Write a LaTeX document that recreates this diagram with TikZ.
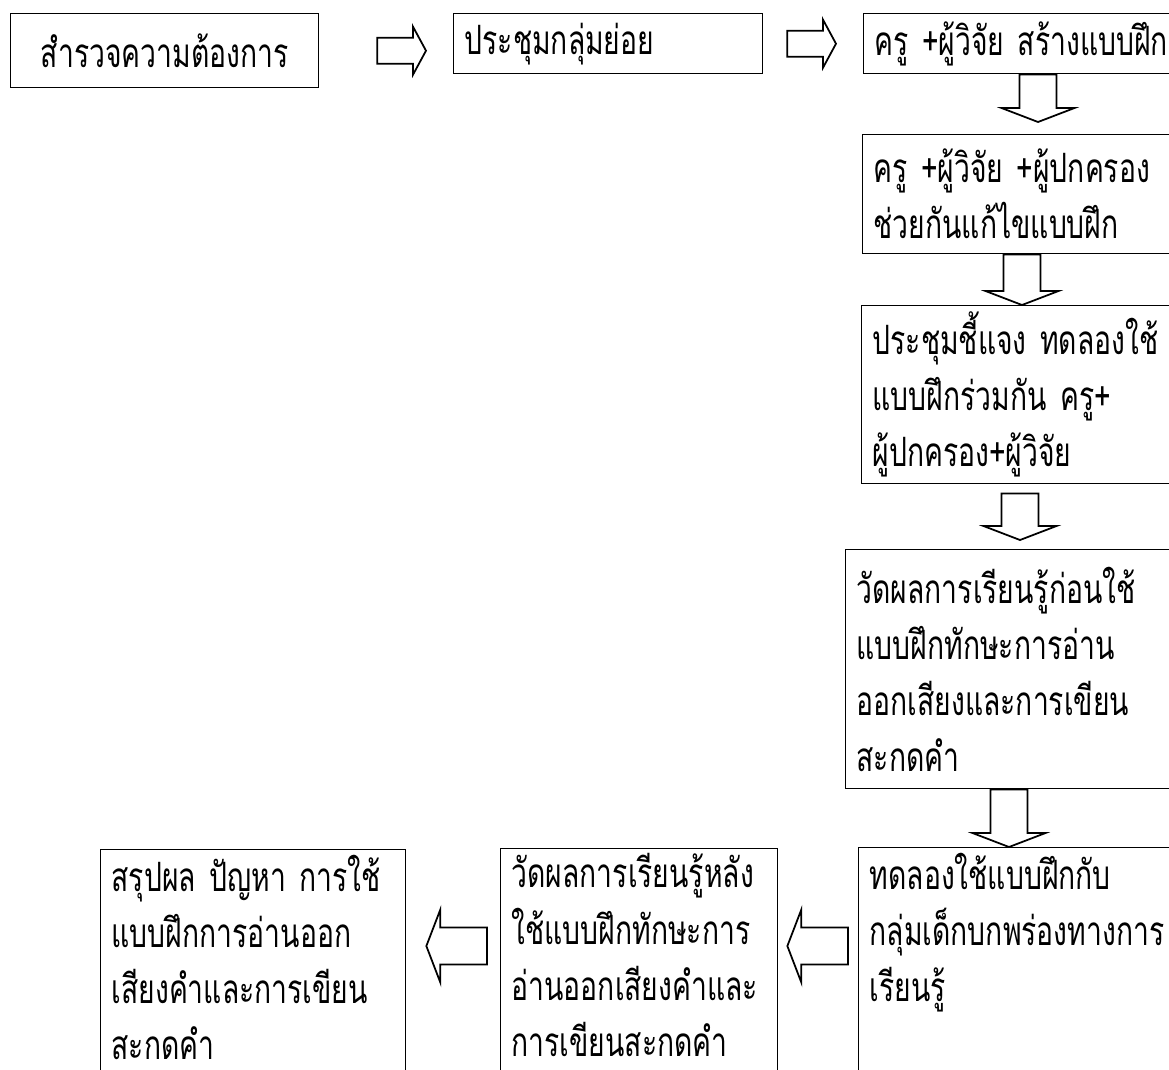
\documentclass[tikz,border=0pt]{standalone}
\usepackage{fontspec}
\newfontfamily\thaifont[Script=Thai,FakeStretch=0.7]{Loma}
\usetikzlibrary{calc,positioning}

\tikzset{
  box/.style={draw, line width=0.8pt, anchor=north west, inner xsep=0.22cm, inner ysep=0pt,
    align=left, font=\thaifont\fontsize{23}{31.9}\selectfont},
  open box/.style={box, inner ysep=0.1cm, text depth=4cm},
  body half/.store in=\bodyhalf, head half/.store in=\headhalf, tip len/.store in=\tiplen,
  body half=0.26cm, head half=0.48cm, tip len=0.26cm,
  wide arrow/.style={body half=0.37cm, head half=0.73cm, tip len=0.28cm},
  blockarrow/.style={draw, line width=1pt, line join=miter,
    to path={let \p1=(\tikztostart), \p2=(\tikztotarget),
      \n1={veclen(\x2-\x1,\y2-\y1)}, \n2={atan2(\y2-\y1,\x2-\x1)} in
      ($(\p1)+(\n2+90:\bodyhalf)$) -- ++(\n2:\n1-\tiplen) -- ++(\n2+90:\headhalf-\bodyhalf)
      -- (\p2) -- ($(\p2)+(\n2+180:\tiplen)+(\n2-90:\headhalf)$)
      -- ++(\n2+90:\headhalf-\bodyhalf) -- ++(\n2+180:\n1-\tiplen) -- cycle}}
}

\begin{document}
\begin{tikzpicture}[x=0.02cm, y=-0.02cm]
\useasboundingbox[fill=white] (0,0) rectangle (1169,1069);
\clip (0,0) rectangle (1169,1069);

% top row
\node[box, align=center, minimum width=6.16cm, minimum height=1.48cm] (survey) at (10,13) {สำรวจความต้องการ};
\node[box, text width=5.74cm, minimum height=1.2cm] (meeting) at (453,13) {ประชุมกลุ่มย่อย};
\node[box, text width=5.9cm, minimum height=1.2cm] (build) at (863,13) {ครู +ผู้วิจัย สร้างแบบฝึก};

% right column
\node[box, text width=5.92cm, minimum height=2.38cm] (revise) at (862,134) {ครู +ผู้วิจัย +ผู้ปกครอง\\ช่วยกันแก้ไขแบบฝึก};
\node[box, text width=5.94cm, minimum height=3.56cm] (brief) at (861,305) {ประชุมชี้แจง ทดลองใช้\\แบบฝึกร่วมกัน ครู+\\ผู้ปกครอง+ผู้วิจัย};
\node[box, text width=6.26cm, minimum height=4.78cm] (pretest) at (845,549) {วัดผลการเรียนรู้ก่อนใช้\\แบบฝึกทักษะการอ่าน\\ออกเสียงและการเขียน\\สะกดคำ};

% bottom row (runs off the page)
\node[open box, text width=6.0cm] (trial) at (858,847) {ทดลองใช้แบบฝึกกับ\\กลุ่มเด็กบกพร่องทางการ\\เรียนรู้};
\node[open box, text width=5.1cm] (posttest) at (500,848) {วัดผลการเรียนรู้หลัง\\ใช้แบบฝึกทักษะการ\\อ่านออกเสียงคำและ\\การเขียนสะกดคำ};
\node[open box, text width=5.66cm] (summary) at (100,849) {สรุปผล ปัญหา การใช้\\แบบฝึกการอ่านออก\\เสียงคำและการเขียน\\สะกดคำ};

\draw[blockarrow] ($(survey.east)+(58,0)$) to ($(survey.east -| meeting.west)+(-27,0)$);
\draw[blockarrow] ($(meeting.east)+(24,0)$) to ($(build.west)+(-27,0)$);
\draw[blockarrow, wide arrow] ($(build.south west)+(175,0)$) to ($(revise.north west)+(176,-12)$);
\draw[blockarrow, wide arrow] ($(revise.south west)+(160,0)$) to ($(brief.north west)+(161,0)$);
\draw[blockarrow, wide arrow] ($(brief.south west)+(159,9)$) to ($(pretest.north west)+(175,-9)$);
\draw[blockarrow, wide arrow] ($(pretest.south west)+(164,0)$) to ($(trial.north west)+(151,0)$);
\draw[blockarrow, wide arrow] ($(trial.north west)+(-10,99)$) to ($(posttest.north east)+(9,98)$);
\draw[blockarrow, wide arrow] ($(posttest.north west)+(-13,98)$) to ($(summary.north east)+(20,97)$);
\end{tikzpicture}
\end{document}
